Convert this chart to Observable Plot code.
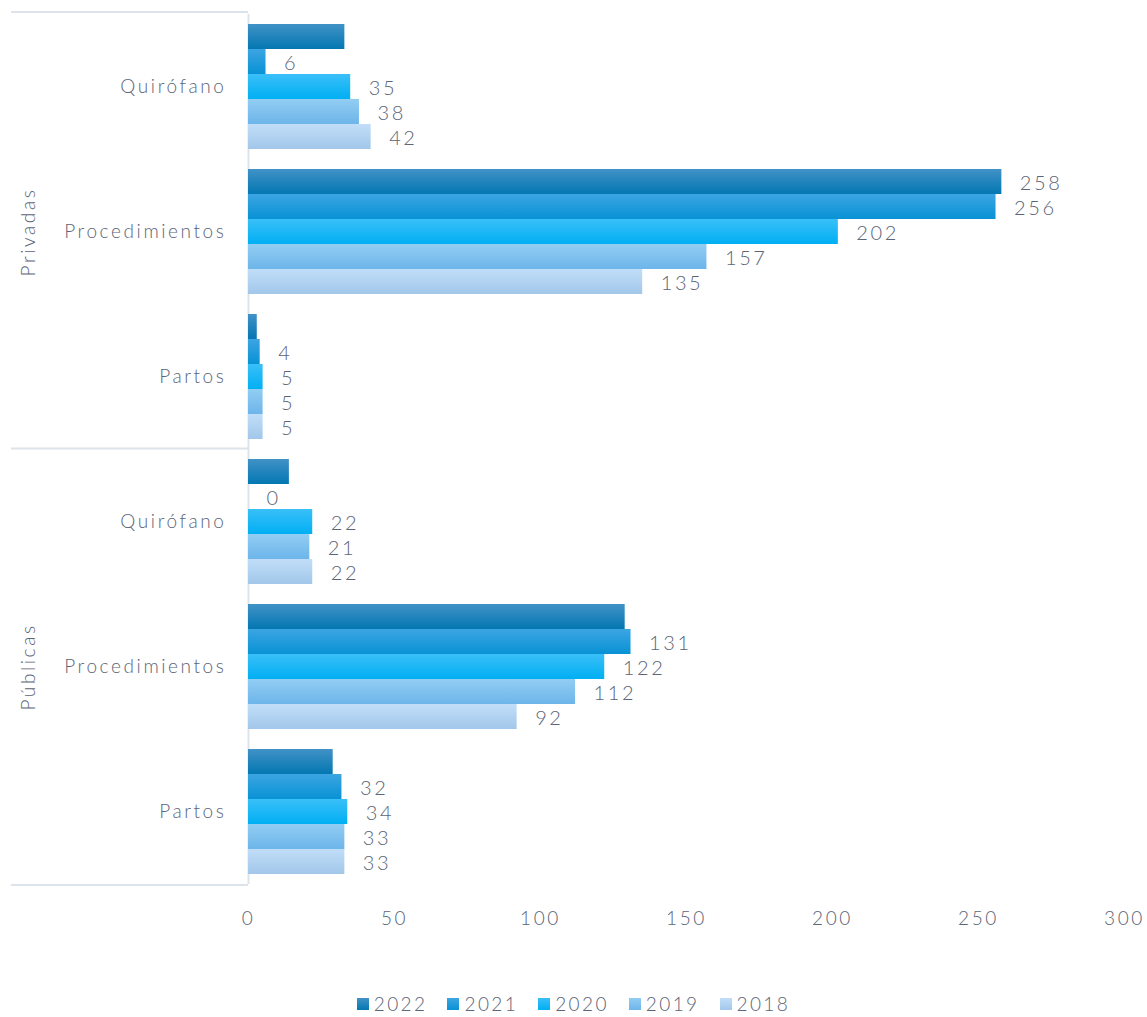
<!DOCTYPE html>
<html>
<head>
<meta charset="utf-8">
<script src="https://cdn.jsdelivr.net/npm/d3@7"></script>
<script src="https://cdn.jsdelivr.net/npm/@observablehq/plot@0.6"></script>
<style>
  html, body { margin: 0; padding: 0; background: #fff; }
  #chart { width: 1147px; height: 950px; }
  .legend { display: flex; justify-content: center; gap: 20px; margin-top: 43px; font-family: Lato, "Open Sans", sans-serif; font-weight: 300; font-size: 19px; line-height: 22px; letter-spacing: 2.4px; color: #5b6577; }
  .legend .item { display: flex; align-items: center; }
  .legend .sw { width: 12px; height: 12px; margin-right: 5px; }
</style>
</head>
<body>
<div id="chart"></div>
<script>
// ---- data ----
const groups = ["Privadas", "Públicas"];
const categories = ["Quirófano", "Procedimientos", "Partos"];
const years = ["2022", "2021", "2020", "2019", "2018"];
const privadas = {
  "Quirófano":      [33, 6, 35, 38, 42],
  "Procedimientos": [258, 256, 202, 157, 135],
  "Partos":         [3, 4, 5, 5, 5]
};
const publicas = {
  "Quirófano":      [14, 0, 22, 21, 22],
  "Procedimientos": [129, 131, 122, 112, 92],
  "Partos":         [29, 32, 34, 33, 33]
};
// which bars carry a value label (1 = shown), same order as the series
const labelsPrivadas = {
  "Quirófano":      [0, 1, 1, 1, 1],
  "Procedimientos": [1, 1, 1, 1, 1],
  "Partos":         [0, 1, 1, 1, 1]
};
const labelsPublicas = {
  "Quirófano":      [0, 1, 1, 1, 1],
  "Procedimientos": [0, 1, 1, 1, 1],
  "Partos":         [0, 1, 1, 1, 1]
};
const xTicks = [0, 50, 100, 150, 200, 250, 300];
const gradients = {
  "2022": ["#4192c6", "#0377b2"],
  "2021": ["#3ca5e2", "#0892d5"],
  "2020": ["#3abff8", "#00aff3"],
  "2019": ["#92cdf3", "#6db5ea"],
  "2018": ["#c1def8", "#a2c7ea"]
};

// ---- table ----
const seriesByGroup = {"Privadas": privadas, "Públicas": publicas};
const labelsByGroup = {"Privadas": labelsPrivadas, "Públicas": labelsPublicas};
const rows = [];
for (const g of groups) for (const c of categories) years.forEach((y, i) => {
  rows.push({group: g, category: c, key: g + "|" + c, year: y,
             value: seriesByGroup[g][c][i], labelled: labelsByGroup[g][c][i] === 1});
});
const keys = [];
for (const g of groups) for (const c of categories) keys.push(g + "|" + c);
const groupLabels = groups.map(g => ({group: g, key: g + "|" + categories[1]}));

const textColor = "#5b6577";
const lineColor = "#dde3ea";
const W = 1147, H = 950, mTop = 12, mBottom = 65, mLeft = 248, mRight = 23;

const defs = () => {
  const ns = "http://www.w3.org/2000/svg";
  const d = document.createElementNS(ns, "defs");
  for (const y of years) {
    const lg = document.createElementNS(ns, "linearGradient");
    lg.setAttribute("id", "g" + y);
    lg.setAttribute("x1", "0"); lg.setAttribute("x2", "0");
    lg.setAttribute("y1", "0"); lg.setAttribute("y2", "1");
    [[0, gradients[y][0]], [1, gradients[y][1]]].forEach(([o, c]) => {
      const s = document.createElementNS(ns, "stop");
      s.setAttribute("offset", o); s.setAttribute("stop-color", c);
      lg.appendChild(s);
    });
    d.appendChild(lg);
  }
  return d;
};

const barMarks = years.map(y => Plot.barX(rows.filter(r => r.year === y), {
  x: "value", y: "year", fy: "key", fill: `url(#g${y})`
}));

const plot = Plot.plot({
  width: W, height: H,
  marginTop: mTop, marginBottom: mBottom, marginLeft: mLeft, marginRight: mRight,
  style: {fontFamily: "Lato, 'Open Sans', sans-serif", fontWeight: 300, fontSize: "19px", color: textColor, letterSpacing: "2.6px", background: "#fff"},
  x: {domain: [0, 300], ticks: xTicks, tickSize: 0, tickPadding: 27, label: null, tickFormat: d => d},
  y: {domain: years, paddingInner: 0, paddingOuter: 0.4, axis: null},
  fy: {domain: keys, padding: 0, axis: "left", label: null, tickSize: 0, tickPadding: 22, tickFormat: k => k.split("|")[1]},
  marks: [
    defs,
    Plot.ruleX([0], {stroke: lineColor, strokeWidth: 2}),
    ...barMarks,
    Plot.text(rows.filter(r => r.labelled), {
      x: "value", y: "year", fy: "key", text: d => String(d.value),
      textAnchor: "start", dx: 18, dy: 2, fontSize: 20, fill: textColor
    }),
    Plot.text(groupLabels, {
      fy: "key", text: "group", frameAnchor: "left", rotate: -90, dx: -220,
      textAnchor: "middle", fontSize: 19, fill: textColor
    })
  ]
});
document.getElementById("chart").appendChild(plot);

// group separator lines, placed with the fy scale
const svg = d3.select(plot);
let bounds;
try {
  const fy = plot.scale("fy");
  const s = d3.scaleBand(fy.domain, fy.range).paddingInner(0).paddingOuter(0);
  bounds = [s(keys[0]), s(keys[3]), s(keys[5]) + s.bandwidth()];
} catch (e) {
  const bw = (H - mTop - mBottom) / keys.length;
  bounds = [mTop, mTop + 3 * bw, mTop + 6 * bw];
}
for (const b of bounds) {
  svg.append("line").attr("x1", 11).attr("x2", mLeft).attr("y1", b).attr("y2", b)
    .attr("stroke", lineColor).attr("stroke-width", 2);
}

// legend
const leg = document.createElement("div");
leg.className = "legend";
for (const y of years) {
  const it = document.createElement("div"); it.className = "item";
  const sw = document.createElement("div"); sw.className = "sw";
  sw.style.background = `linear-gradient(${gradients[y][0]}, ${gradients[y][1]})`;
  const t = document.createElement("span"); t.textContent = y;
  it.appendChild(sw); it.appendChild(t); leg.appendChild(it);
}
document.body.appendChild(leg);
</script>
</body>
</html>
